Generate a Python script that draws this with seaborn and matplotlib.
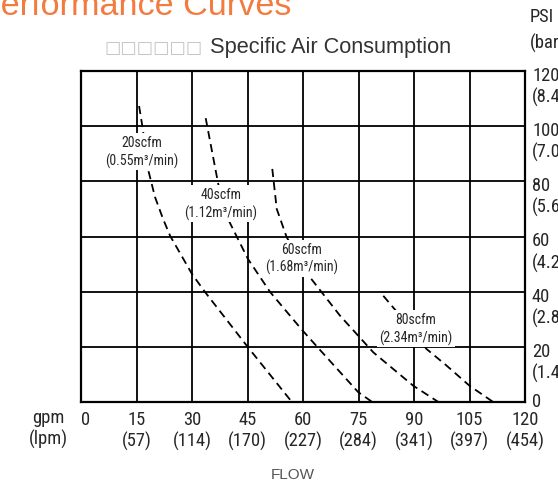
# Diaphragm pump performance curves (air consumption lines)

import numpy as np
import pandas as pd
import matplotlib
matplotlib.use('Agg')
import matplotlib.pyplot as plt
import matplotlib.transforms as mtransforms
from matplotlib import font_manager
import seaborn as sns

# axis values
gpm_ticks = [0, 15, 30, 45, 60, 75, 90, 105, 120]
lpm_ticks = ['', '57', '114', '170', '227', '284', '341', '397', '454']
psi_ticks = [0, 20, 40, 60, 80, 100, 120]
bar_ticks = ['', '1.4', '2.8', '4.2', '5.6', '7.0', '8.4']

# air consumption curves (gpm, psi)
c20_gpm = [15.7, 16.7, 18.1, 20.0, 22.2, 24.1, 30.0, 33.5, 45.1, 57.0]
c20_psi = [107.3, 99.0, 84.5, 74.3, 66.3, 60.2, 46.4, 39.9, 19.9, 0.0]

c40_gpm = [33.7, 37.1, 39.7, 45.1, 51.1, 59.5, 64.1, 74.9, 78.7]
c40_psi = [102.9, 79.0, 66.4, 51.9, 39.9, 26.5, 19.6, 3.6, 0.0]

c60_gpm = [51.7, 52.9, 55.6, 61.9, 70.0, 79.0, 89.8, 96.6]
c60_psi = [84.5, 70.0, 59.7, 45.2, 31.3, 18.0, 5.9, 0.0]

c80_gpm = [81.7, 85.3, 93.4, 98.8, 105.0, 111.4]
c80_psi = [38.5, 32.8, 19.2, 13.2, 5.9, 0.0]

curve_names = ['20scfm\n(0.55m³/min)', '40scfm\n(1.12m³/min)',
               '60scfm\n(1.68m³/min)', '80scfm\n(2.34m³/min)']
label_gpm = [16.5, 37.8, 59.5, 90.5]
label_psi = [90.8, 72.1, 52.2, 26.8]

sns.set_style('white')
plt.rcParams['font.family'] = ['Liberation Sans', 'DejaVu Sans']

# narrow font for the CAD-like labels, if we have one
names = {f.name for f in font_manager.fontManager.ttflist}
narrow = 'Liberation Sans'
for cand in ['Liberation Sans Narrow', 'DejaVu Sans Condensed', 'Roboto Condensed']:
    if cand in names:
        narrow = cand
        break

W, H = 558, 489
fig = plt.figure(figsize=(W / 100, H / 100), dpi=100)
ax = fig.add_axes([81 / W, 1 - 403 / H, 444 / W, 331 / H])

df = pd.concat([
    pd.DataFrame({'gpm': g, 'psi': p, 'air': n})
    for g, p, n in zip([c20_gpm, c40_gpm, c60_gpm, c80_gpm],
                       [c20_psi, c40_psi, c60_psi, c80_psi], curve_names)
])
sns.lineplot(data=df, x='gpm', y='psi', units='air', estimator=None, sort=False,
             color='black', lw=1.3, ls=(0, (4.5, 2.8)), ax=ax, zorder=3)

ax.set_xlim(0, 120)
ax.set_ylim(0, 120)
ax.set_xticks(gpm_ticks)
ax.set_yticks(psi_ticks)
ax.set_xticklabels([])
ax.set_yticklabels([])
ax.tick_params(length=0)
ax.grid(True, color='black', lw=1.3)
ax.set_axisbelow(True)
for s in ax.spines.values():
    s.set_color('black')
    s.set_linewidth(1.6)
ax.set_xlabel('')
ax.set_ylabel('')

# curve labels with white box cutting grid and curve
for t, x, y in zip(curve_names, label_gpm, label_psi):
    ax.text(x, y, t, ha='center', va='center', fontsize=10, family=narrow,
            linespacing=1.3, zorder=5,
            bbox=dict(boxstyle='square,pad=0.15', fc='white', ec='none'))

fs = 13.3
# bottom labels (gpm / lpm)
tb = mtransforms.blended_transform_factory(ax.transData, ax.transAxes)
off_b = mtransforms.ScaledTranslation(0, -8 / 100, fig.dpi_scale_trans)
for g, l in zip(gpm_ticks, lpm_ticks):
    txt = f'{g}\n({l})' if l else f'{g}'
    ax.text(g, 0, txt, transform=tb + off_b, ha='left' if g == 0 else 'center',
            va='top', fontsize=fs, family=narrow, linespacing=1.2)

# right labels (psi / bar)
tr = mtransforms.blended_transform_factory(ax.transAxes, ax.transData)
for p, b in zip(psi_ticks, bar_ticks):
    if b:
        off = mtransforms.ScaledTranslation(7 / 100, 5 / 100, fig.dpi_scale_trans)
        ax.text(1, p, f'{p}\n({b})', transform=tr + off, ha='left', va='top',
                fontsize=fs, family=narrow, linespacing=1.2)
    else:
        off = mtransforms.ScaledTranslation(7 / 100, 1 / 100, fig.dpi_scale_trans)
        ax.text(1, p, f'{p}', transform=tr + off, ha='left', va='center',
                fontsize=fs, family=narrow)

fig.text(530 / W, 1 - 17 / H, 'PSI', ha='left', va='center', fontsize=fs, family=narrow)
fig.text(530 / W, 1 - 43 / H, '(bar)', ha='left', va='center', fontsize=fs, family=narrow)
fig.text(48 / W, 1 - 429 / H, 'gpm\n(lpm)', ha='center', va='center', fontsize=fs,
         family=narrow, linespacing=1.2)

# titles
fig.text(-22 / W, 1 - 15 / H, 'Performance Curves', ha='left', va='baseline',
         fontsize=24.6, color='#F37B3F')
fig.text(203 / W, 1 - 53 / H, '□□□□□□', ha='right', va='baseline', fontsize=12.5,
         color='#c4c4c4', family=['DejaVu Sans'])
fig.text(210 / W, 1 - 53 / H, 'Specific Air Consumption', ha='left', va='baseline',
         fontsize=15.7, color='#333333')
fig.text(293 / W, 1 - 475 / H, 'FLOW', ha='center', va='center', fontsize=11,
         color='#555555')

fig.savefig('out.png', dpi=100)
